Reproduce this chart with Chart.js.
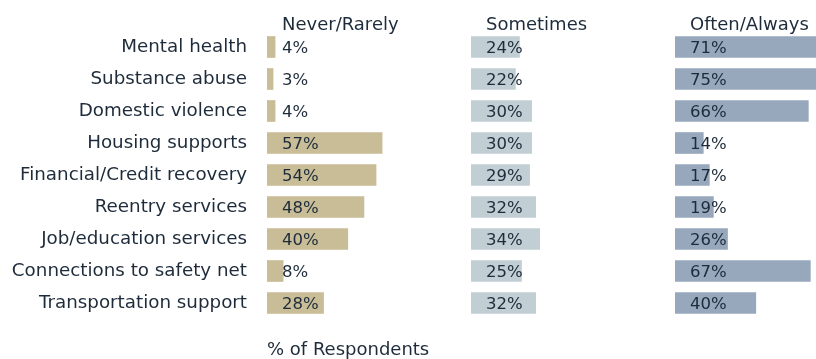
<!DOCTYPE html>
<html>
<head>
<meta charset="utf-8">
<script src="https://cdn.jsdelivr.net/npm/chart.js@4.4.1/dist/chart.umd.min.js"></script>
<style>
  html, body { margin: 0; padding: 0; background: #fff; }
  body { width: 816px; height: 359px; overflow: hidden; position: relative; }
  canvas { position: absolute; top: 0; }
  #never { left: 0; }
  #sometimes { left: 471px; }
  #often { left: 675px; }
</style>
</head>
<body>
<canvas id="never" width="469" height="359"></canvas>
<canvas id="sometimes" width="202" height="359"></canvas>
<canvas id="often" width="202" height="359"></canvas>
<script>
// ===== Service needs by frequency =====
const categories = [
  'Mental health', 'Substance abuse', 'Domestic violence', 'Housing supports',
  'Financial/Credit recovery', 'Reentry services', 'Job/education services',
  'Connections to safety net', 'Transportation support',
];
const neverRarely = [4, 3, 4, 57, 54, 48, 40, 8, 28];
const sometimesData = [24, 22, 30, 30, 29, 32, 34, 25, 32];
const oftenAlways = [71, 75, 66, 14, 17, 19, 26, 67, 40];

const INK = '#1d2b3a';
const FONT = '"DejaVu Sans", "Open Sans", sans-serif';

// header + value labels, both left-aligned just inside the panel
const panelText = {
  id: 'panelText',
  afterDatasetsDraw(chart) {
    const { ctx, chartArea } = chart;
    const ds   = chart.data.datasets[0];
    const meta = chart.getDatasetMeta(0);
    const x    = chartArea.left + 15;

    ctx.save();
    ctx.fillStyle = INK;
    ctx.textAlign = 'left';
    ctx.textBaseline = 'middle';

    ctx.font = `18px ${FONT}`;
    ctx.fillText(ds.label, x, 25);

    ctx.font = `16.5px ${FONT}`;
    meta.data.forEach((bar, i) => {
      ctx.fillText(`${ds.data[i]}%`, x, bar.y + 2);
    });
    ctx.restore();
  },
};

function makePanel(id, label, data, color, first) {
  return new Chart(document.getElementById(id), {
    type: 'bar',
    data: {
      labels: categories,
      datasets: [{
        label,
        data,
        backgroundColor: color,
        borderWidth: 0,
        barThickness: 21,
      }],
    },
    options: {
      indexAxis: 'y',
      responsive: false,
      animation: false,
      layout: { padding: { top: 31, left: 0, right: 0, bottom: 0 } },
      scales: {
        x: {
          min: 0,
          max: 100,
          grid: { display: false },
          border: { display: false },
          ticks: { display: false },
          title: {
            display: first,
            text: '% of Respondents',
            align: 'start',
            color: INK,
            font: { family: FONT, size: 18, lineHeight: 1 },
            padding: { top: 0, bottom: 0 },
          },
          afterFit(scale) { scale.height = 40; },
        },
        y: {
          display: first,
          grid: { display: false },
          border: { display: false },
          ticks: {
            autoSkip: false,
            padding: 12,
            color: INK,
            font: { family: FONT, size: 18.3 },
          },
          afterFit(scale) { scale.width = first ? 267 : 0; },
        },
      },
      plugins: {
        legend: { display: false },
        tooltip: { enabled: false },
      },
    },
    plugins: [panelText],
  });
}

makePanel('never', 'Never/Rarely', neverRarely, '#c9bd97', true);
makePanel('sometimes', 'Sometimes', sometimesData, '#c1ced4', false);
makePanel('often', 'Often/Always', oftenAlways, '#97a8bc', false);
</script>
</body>
</html>
